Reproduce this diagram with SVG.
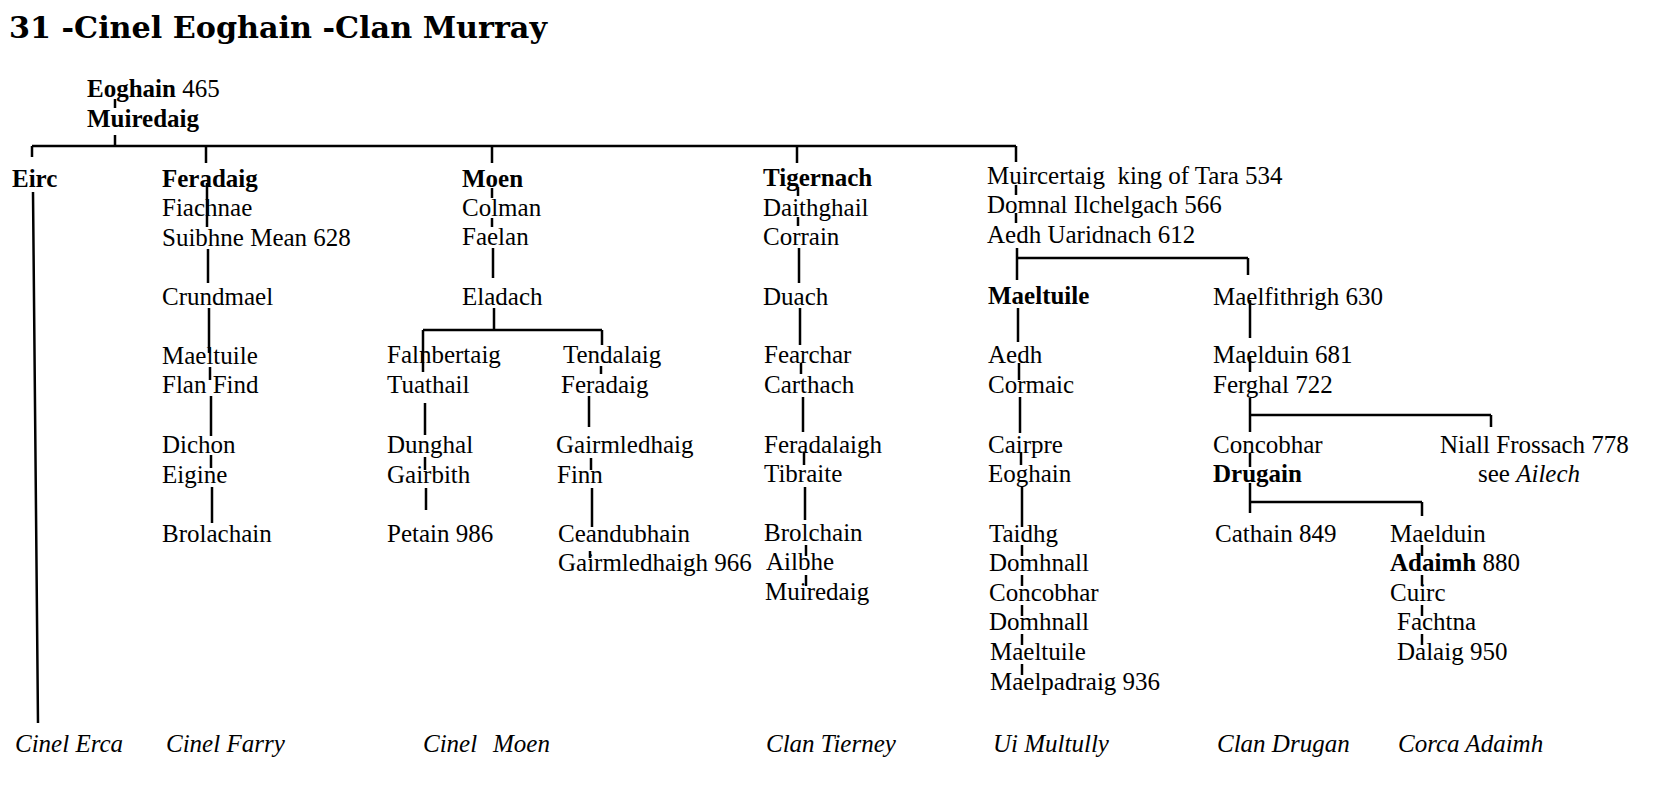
<svg xmlns="http://www.w3.org/2000/svg" width="1659" height="802" viewBox="0 0 1659 802">
<style>
text{font-family:"Liberation Serif","Times New Roman",serif;font-size:25px;fill:#000}
.b{font-weight:bold}
.i{font-style:italic}
.pre{white-space:pre}
.title{font-family:"DejaVu Serif","Liberation Serif",serif;font-weight:bold;font-size:29px}
.c path{fill:none;stroke:#000;stroke-width:2.5}
</style>
<rect width="1659" height="802" fill="#fff"/>
<text class="title" x="9" y="38" textLength="538" lengthAdjust="spacingAndGlyphs">31 -Cinel Eoghain -Clan Murray</text>

<g id="connectors" class="c">
<path d="M115 99V108M115 135V147M32 146H1016"/>
<path d="M32 146V157M33 192L38 723"/>
<path d="M206 146V163M207 183V227M208 249V283M209 308V353M210 367V380M211 396V436M211 455V468M212 487V523"/>
<path d="M492 146V163M492 188V198M492 218V227M493 248V278M494 308V330M423 330H602M602 330V345M423 330V372M425 403V435M425 457V470M426 488V510M601 366V374M589 396V427M591 458V470M592 488V527M590 551V558"/>
<path d="M797 146V163M798 187V196M798 217V226M799 248V283M800 308V345M801 363V374M803 397V432M804 452V465M805 487V520M806 545V556M806 575V586"/>
<path d="M1016 146V162M1016 185V195M1016 213V223M1017 248V280M1017 258H1248M1248 258V275M1018 308V342M1019 363V380M1020 397V433M1021 452V465M1022 487V527M1022 545V556M1022 575V586M1022 605V616M1022 634V645M1022 664V675"/>
<path d="M1250 300V338M1250 357V372M1250 398V432M1250 415H1491M1491 415V427M1250 453V467M1250 483V513M1250 502H1422M1422 502V516M1422 545V556M1422 575V586M1422 605V616M1422 634V645"/>
</g>

<g id="root">
<text x="87" y="97"><tspan class="b">Eoghain</tspan> 465</text>
<text x="87" y="127" class="b">Muiredaig</text>
</g>

<g id="eirc">
<text x="12" y="187" class="b">Eirc</text>
</g>

<g id="feradaig">
<text x="162" y="187" class="b">Feradaig</text>
<text x="162" y="216">Fiachnae</text>
<text x="162" y="246">Suibhne Mean 628</text>
<text x="162" y="305">Crundmael</text>
<text x="162" y="364">Maeltuile</text>
<text x="162" y="393">Flan Find</text>
<text x="162" y="453">Dichon</text>
<text x="162" y="483">Eigine</text>
<text x="162" y="542">Brolachain</text>
</g>

<g id="moen">
<text x="462" y="187" class="b">Moen</text>
<text x="462" y="216">Colman</text>
<text x="462" y="245">Faelan</text>
<text x="462" y="305">Eladach</text>
</g>

<g id="falnbertaig">
<text x="387" y="363">Falnbertaig</text>
<text x="387" y="393">Tuathail</text>
<text x="387" y="453">Dunghal</text>
<text x="387" y="483">Gairbith</text>
<text x="387" y="542">Petain 986</text>
</g>

<g id="tendalaig">
<text x="563" y="363">Tendalaig</text>
<text x="561" y="393">Feradaig</text>
<text x="556" y="453">Gairmledhaig</text>
<text x="557" y="483">Finn</text>
<text x="558" y="542">Ceandubhain</text>
<text x="558" y="571">Gairmledhaigh 966</text>
</g>

<g id="tigernach">
<text x="763" y="186" class="b">Tigernach</text>
<text x="763" y="216">Daithghail</text>
<text x="763" y="245">Corrain</text>
<text x="763" y="305">Duach</text>
<text x="764" y="363">Fearchar</text>
<text x="764" y="393">Carthach</text>
<text x="764" y="453">Feradalaigh</text>
<text x="764" y="482">Tibraite</text>
<text x="764" y="541">Brolchain</text>
<text x="766" y="570">Ailbhe</text>
<text x="765" y="600">Muiredaig</text>
</g>

<g id="muircertaig">
<text x="987" y="184" class="pre" xml:space="preserve">Muircertaig  king of Tara 534</text>
<text x="987" y="213">Domnal Ilchelgach 566</text>
<text x="987" y="243">Aedh Uaridnach 612</text>
</g>

<g id="maeltuile">
<text x="988" y="304" class="b">Maeltuile</text>
<text x="988" y="363">Aedh</text>
<text x="988" y="393">Cormaic</text>
<text x="988" y="453">Cairpre</text>
<text x="988" y="482">Eoghain</text>
<text x="989" y="542">Taidhg</text>
<text x="989" y="571">Domhnall</text>
<text x="989" y="601">Concobhar</text>
<text x="989" y="630">Domhnall</text>
<text x="990" y="660">Maeltuile</text>
<text x="990" y="690">Maelpadraig 936</text>
</g>

<g id="maelfithrigh">
<text x="1213" y="305">Maelfithrigh 630</text>
<text x="1213" y="363">Maelduin 681</text>
<text x="1213" y="393">Ferghal 722</text>
</g>

<g id="niall">
<text x="1440" y="453">Niall Frossach 778</text>
<text x="1478" y="482">see <tspan class="i">Ailech</tspan></text>
</g>

<g id="concobhar">
<text x="1213" y="453">Concobhar</text>
<text x="1213" y="482" class="b">Drugain</text>
</g>

<g id="cathain">
<text x="1215" y="542">Cathain 849</text>
</g>

<g id="maelduin">
<text x="1390" y="542">Maelduin</text>
<text x="1390" y="571"><tspan class="b">Adaimh</tspan> 880</text>
<text x="1390" y="601">Cuirc</text>
<text x="1397" y="630">Fachtna</text>
<text x="1397" y="660">Dalaig 950</text>
</g>

<g id="labels">
<text x="15" y="752" class="i">Cinel Erca</text>
<text x="166" y="752" class="i">Cinel Farry</text>
<text x="423" y="752" class="i">Cinel<tspan x="493">Moen</tspan></text>
<text x="766" y="752" class="i">Clan Tierney</text>
<text x="993" y="752" class="i">Ui Multully</text>
<text x="1217" y="752" class="i">Clan Drugan</text>
<text x="1398" y="752" class="i">Corca Adaimh</text>
</g>
</svg>
